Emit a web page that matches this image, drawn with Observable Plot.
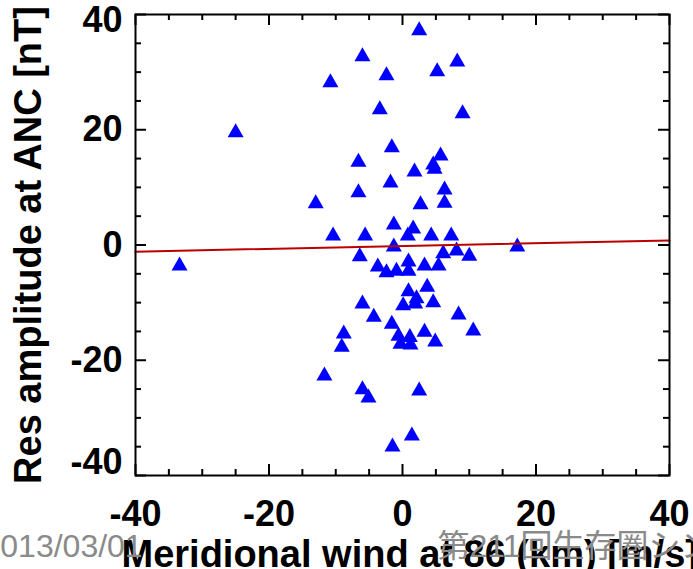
<!DOCTYPE html>
<html><head><meta charset="utf-8">
<script src="https://cdn.jsdelivr.net/npm/d3@7"></script>
<script src="https://cdn.jsdelivr.net/npm/@observablehq/plot@0.6"></script>
<style>html,body{margin:0;padding:0;background:#fff;overflow:hidden}</style>
</head><body><div id="chart"></div>
<script>
const windX = [2.5,-6.0,8.2,-2.4,5.2,-10.8,-3.4,9.0,-1.6,-6.6,5.7,4.6,4.8,1.8,-1.8,-6.6,6.3,6.3,-13.0,2.7,
  -1.3,-10.4,-5.6,1.6,0.8,4.3,7.3,-1.3,-6.4,6.1,8.1,10.0,-3.7,-2.4,-0.9,0.9,0.9,3.3,5.4,0.9,
  3.7,2.1,0.1,1.9,4.6,-6.0,-4.3,8.4,-1.6,10.6,3.3,-0.6,1.1,-8.8,-0.3,1.2,4.9,-9.1,-11.7,-6.0,
  -5.1,2.5,1.4,-1.5,-25.0,-33.4,17.2];
const ampY = [37.6,33.1,32.2,29.8,30.5,28.6,23.9,23.2,17.3,14.8,15.9,14.3,13.6,13.1,11.2,9.5,10.0,7.7,7.6,7.4,
  3.9,2.0,2.0,3.2,2.0,2.0,2.0,0.1,-1.6,-1.1,-0.6,-1.5,-3.4,-4.4,-4.1,-2.5,-4.1,-3.2,-3.2,-7.7,
  -6.9,-8.9,-10.1,-9.8,-9.6,-9.8,-12.1,-11.7,-13.3,-14.5,-14.7,-15.4,-15.6,-15.0,-16.8,-16.9,-16.4,-17.3,-22.3,-24.7,
  -26.1,-24.9,-32.7,-34.6,19.9,-3.2,0.1];
const fitX = [-40, 40];
const fitY = [-1.15, 0.8];
const majorTicks = [-40, -20, 0, 20, 40];
const minorTicks = [-35, -30, -25, -15, -10, -5, 5, 10, 15, 25, 30, 35];
const yInnerLabels = [-20, 0, 20];
const yTopLabel = [40];
const yBottomLabel = [-40];
const xTitle = "Meridional wind at 86 (km) [m/s]";
const yTitle = "Res amplitude at ANC [nT]";
const dateStamp = "2013/03/01";
const eventStamp = "第211回生存圏シンポジウム";

const points = windX.map((x, i) => ({x, y: ampY[i]}));
const fit = fitX.map((x, i) => ({x, y: fitY[i]}));

const triangle = {
  draw(ctx, size) {
    const r = Math.sqrt(size / Math.PI);
    const hw = r * 8 / 6, hh = r * 7 / 6;
    ctx.moveTo(0, -hh);
    ctx.lineTo(hw, hh);
    ctx.lineTo(-hw, hh);
    ctx.closePath();
  }
};

const W = 693, H = 569, mL = 135, mR = 24, mT = 14, mB = 94;
const innerW = W - mL - mR, innerH = H - mT - mB;
const FONT = "Liberation Sans, Arial, Helvetica, sans-serif";
const majLen = 11, minLen = 6;
const fmt = d => String(d);

const chart = Plot.plot({
  width: W, height: H,
  marginLeft: mL, marginRight: mR, marginTop: mT, marginBottom: mB,
  x: {domain: [-40, 40]},
  y: {domain: [-40, 40]},
  style: {background: "white", fontFamily: FONT, overflow: "hidden"},
  marks: [
    Plot.dot(points, {x: "x", y: "y", r: 6, symbol: triangle, fill: "#0000ff", stroke: "none"}),
    Plot.line(fit, {x: "x", y: "y", stroke: "#bb0000", strokeWidth: 2}),
    // inward ticks, all four sides
    Plot.tickX(majorTicks, {x: d => d, insetTop: innerH - majLen, stroke: "black", strokeWidth: 2}),
    Plot.tickX(minorTicks, {x: d => d, insetTop: innerH - minLen, stroke: "black", strokeWidth: 2}),
    Plot.tickX(majorTicks, {x: d => d, insetBottom: innerH - majLen, stroke: "black", strokeWidth: 2}),
    Plot.tickX(minorTicks, {x: d => d, insetBottom: innerH - minLen, stroke: "black", strokeWidth: 2}),
    Plot.tickY(majorTicks, {y: d => d, insetRight: innerW - majLen, stroke: "black", strokeWidth: 2}),
    Plot.tickY(minorTicks, {y: d => d, insetRight: innerW - minLen, stroke: "black", strokeWidth: 2}),
    Plot.tickY(majorTicks, {y: d => d, insetLeft: innerW - majLen, stroke: "black", strokeWidth: 2}),
    Plot.tickY(minorTicks, {y: d => d, insetLeft: innerW - minLen, stroke: "black", strokeWidth: 2}),
    Plot.frame({stroke: "black", strokeWidth: 2}),
    // tick labels
    Plot.axisX({ticks: majorTicks, tickSize: 0, tickPadding: 25, tickFormat: fmt, label: null,
      fontSize: 36, fontWeight: "bold", fill: "black"}),
    Plot.axisY({ticks: yInnerLabels, tickSize: 0, tickPadding: 13, tickFormat: fmt, label: null,
      fontSize: 36, fontWeight: "bold", fill: "black"}),
    Plot.axisY({ticks: yTopLabel, tickSize: 0, tickPadding: 13, tickFormat: fmt, label: null,
      fontSize: 36, fontWeight: "bold", fill: "black", dy: 6}),
    Plot.axisY({ticks: yBottomLabel, tickSize: 0, tickPadding: 13, tickFormat: fmt, label: null,
      fontSize: 36, fontWeight: "bold", fill: "black", dy: -13}),
    // axis titles
    Plot.text([xTitle], {frameAnchor: "bottom-left", textAnchor: "start", lineAnchor: "bottom",
      dx: -14, dy: 91, fontSize: 38, fontWeight: "bold", fill: "black", fontFamily: FONT}),
    Plot.text([yTitle], {frameAnchor: "left", textAnchor: "middle", lineAnchor: "bottom", rotate: -90,
      dx: -95, fontSize: 38, fontWeight: "bold", fill: "black", fontFamily: FONT}),
    // watermark stamps (drawn over the title)
    Plot.text([dateStamp], {frameAnchor: "bottom-left", textAnchor: "start", lineAnchor: "bottom",
      dx: -153, dy: 81, fontSize: 32, fill: "#8a8a8a", fontFamily: FONT}),
    Plot.text([eventStamp], {frameAnchor: "bottom-left", textAnchor: "start", lineAnchor: "bottom",
      dx: 437 - mL, dy: 81, fontSize: 32, fill: "#8a8a8a", fontFamily: "Liberation Sans, Noto Sans CJK JP, sans-serif"})
  ]
});
document.getElementById("chart").appendChild(chart);
</script>
</body></html>
